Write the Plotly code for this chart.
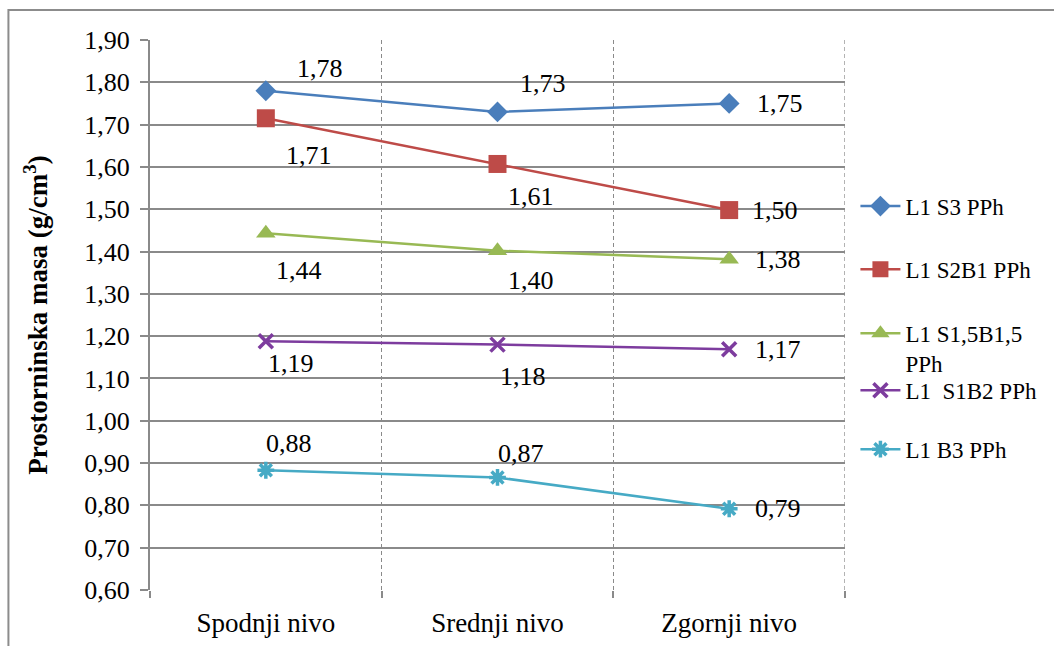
import plotly.graph_objects as go

# podatki
kategorije = ['Spodnji nivo', 'Srednji nivo', 'Zgornji nivo']
serije = ['L1 S3 PPh', 'L1 S2B1 PPh', 'L1 S1,5B1,5<br>PPh', 'L1 \u00a0S1B2 PPh', 'L1 B3 PPh']
s3 = [1.78, 1.73, 1.75]
s2b1 = [1.715, 1.607, 1.498]
s15b15 = [1.443, 1.402, 1.382]
s1b2 = [1.188, 1.180, 1.169]
b3 = [0.883, 0.866, 0.792]
oznake_s3 = ['1,78', '1,73', '1,75']
oznake_s2b1 = ['1,71', '1,61', '1,50']
oznake_s15b15 = ['1,44', '1,40', '1,38']
oznake_s1b2 = ['1,19', '1,18', '1,17']
oznake_b3 = ['0,88', '0,87', '0,79']
y_ticks = [0.6 + 0.1 * i for i in range(14)]
y_ticktext = [('%.2f' % v).replace('.', ',') for v in y_ticks]

vrednosti = [s3, s2b1, s15b15, s1b2, b3]
oznake = [oznake_s3, oznake_s2b1, oznake_s15b15, oznake_s1b2, oznake_b3]

# stil
barve = ['#4A7EBB', '#BE4B48', '#98B954', '#7D3C9E', '#46AAC5']
simboli = ['diamond', 'square', 'triangle-up', 'x-thin-open', 'asterisk-open']
velikosti = [16, 18, 17, 14, 14]
# zamiki oznak (xshift, yshift, xanchor)
zamiki = [
    [(54, 22, 'center'), (45, 28, 'center'), (26, 0, 'left')],
    [(43, -37, 'center'), (33, -33, 'center'), (21, 0, 'left')],
    [(33, -37, 'center'), (33, -30, 'center'), (24, 0, 'left')],
    [(25, -22, 'center'), (25, -32, 'center'), (24, 0, 'left')],
    [(23, 27, 'center'), (23, 24, 'center'), (24, 0, 'left')],
]
# legenda: navpicni polozaj vsakega vnosa (paper)
leg_y = [0.737, 0.622, 0.506, 0.402, 0.295]

FONT = 'Liberation Serif'
x_pos = [0.5, 1.5, 2.5]
MREZA = '#8a8a8a'

fig = go.Figure()
for i, ime in enumerate(serije):
    mk = dict(symbol=simboli[i], size=velikosti[i], color=barve[i])
    if simboli[i].endswith('open'):
        mk['line'] = dict(color=barve[i], width=3.5)
    leg = 'legend' if i == 0 else 'legend%d' % (i + 1)
    fig.add_trace(go.Scatter(
        x=x_pos, y=vrednosti[i], name=ime, mode='lines+markers',
        line=dict(color=barve[i], width=2.5), marker=mk,
        legend=leg, hoverinfo='skip'))
    for j in range(3):
        dx, dy, anc = zamiki[i][j]
        fig.add_annotation(x=x_pos[j], y=vrednosti[i][j], text=oznake[i][j],
                           showarrow=False, xshift=dx, yshift=dy, xanchor=anc,
                           font=dict(family=FONT, size=26, color='black'))

fig.update_xaxes(
    range=[0, 3], tickvals=x_pos, ticktext=kategorije,
    ticks='outside', ticklen=9, tickcolor='rgba(0,0,0,0)',
    showgrid=False, zeroline=False, showline=False, automargin=False,
    tickfont=dict(family=FONT, size=27, color='black'),
    minor=dict(tickvals=[0, 1, 2, 3], ticks='outside', ticklen=7, tickcolor=MREZA,
               tickwidth=2, showgrid=True, gridcolor=MREZA, griddash='4px,3px', gridwidth=1.3),
)
fig.update_yaxes(
    range=[0.6, 1.9], tickvals=y_ticks, ticktext=y_ticktext,
    ticks='outside', ticklen=8, tickcolor=MREZA, tickwidth=2,
    ticklabelstandoff=5, automargin=False,
    showgrid=True, gridcolor=MREZA, gridwidth=2, zeroline=False,
    showline=True, linecolor=MREZA, linewidth=2,
    tickfont=dict(family=FONT, size=26, color='black'),
    title=dict(text='<b>Prostorninska masa (g/cm<sup>3</sup>)</b>', standoff=29,
               font=dict(family=FONT, size=27, color='black')),
)

# desna crtkana crta
fig.add_shape(type='line', xref='x', yref='paper', x0=3, x1=3, y0=0, y1=1,
              line=dict(color=MREZA, width=1.3, dash='4px,3px'))
# okvir grafa
fig.add_shape(type='rect', xref='paper', yref='paper',
              x0=-0.2037, x1=1.6, y0=-0.3, y1=1.0545,
              line=dict(color='#8c8c8c', width=2), layer='below')

legenda = dict(x=1.015, xanchor='left', yanchor='top',
               font=dict(family=FONT, size=23, color='black'),
               valign='top', itemwidth=40, bgcolor='rgba(0,0,0,0)')
lay = dict(
    width=1054, height=646,
    plot_bgcolor='white', paper_bgcolor='white',
    margin=dict(l=150, r=207, t=40, b=56),
    font=dict(family=FONT, color='black'),
    showlegend=True,
)
for i in range(5):
    key = 'legend' if i == 0 else 'legend%d' % (i + 1)
    lay[key] = dict(legenda, y=leg_y[i])
fig.update_layout(**lay)

fig.write_html('out.html', config={'displayModeBar': False},
               post_script="document.body.style.margin='0';")
